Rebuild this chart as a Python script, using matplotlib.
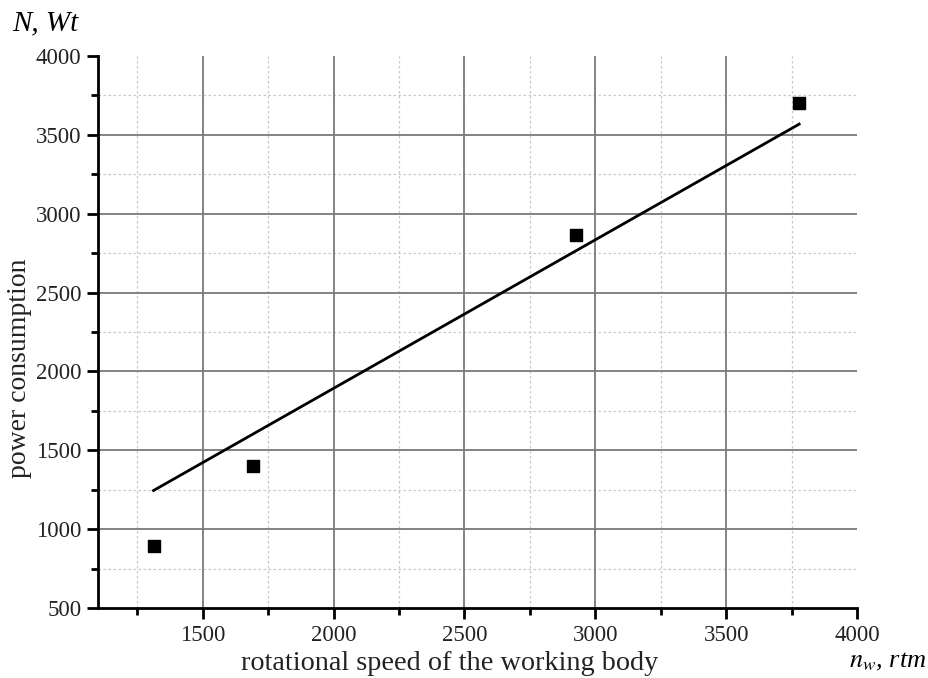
import matplotlib
matplotlib.use("Agg")
import matplotlib.pyplot as plt
from matplotlib.ticker import MultipleLocator

# Data
speed = [1313, 1692, 2928, 3777]
power = [895, 1400, 2867, 3700]
fit_x = [1312, 3779]
fit_y = [1245, 3568]

x_major = [1500, 2000, 2500, 3000, 3500]
x_minor = [1250, 1750, 2250, 2750, 3250, 3750]
y_major = [1000, 1500, 2000, 2500, 3000, 3500]
y_minor = [750, 1250, 1750, 2250, 2750, 3250, 3750]

plt.rcParams['font.family'] = ['Liberation Serif', 'DejaVu Serif']

fig = plt.figure(figsize=(9.29, 6.78), dpi=100)
ax = fig.add_axes([0.1055, 0.1032, 0.817, 0.8142])

ax.set_xlim(1100, 4000)
ax.set_ylim(500, 4000)
ax.xaxis.set_major_locator(MultipleLocator(500))
ax.xaxis.set_minor_locator(MultipleLocator(250))
ax.yaxis.set_major_locator(MultipleLocator(500))
ax.yaxis.set_minor_locator(MultipleLocator(250))

# grid lines inside the plot only (none on the top / right borders)
ax.vlines(x_major, 500, 4000, color='#7a7a7a', linewidth=1.3, zorder=1)
ax.hlines(y_major, 1100, 4000, color='#7a7a7a', linewidth=1.3, zorder=1)
ax.vlines(x_minor, 500, 4000, color='#c8c8c8', linewidth=0.9, linestyle=(0, (2, 2)), zorder=0.5)
ax.hlines(y_minor, 1100, 4000, color='#c8c8c8', linewidth=0.9, linestyle=(0, (2, 2)), zorder=0.5)

ax.plot(fit_x, fit_y, color='black', linewidth=2.0, zorder=3)
ax.scatter(speed, power, marker='s', s=80, color='black', zorder=4)

for side in ['top', 'right']:
    ax.spines[side].set_visible(False)
for side in ['left', 'bottom']:
    ax.spines[side].set_linewidth(2.0)

ax.tick_params(which='major', direction='out', length=8, width=2, labelsize=16.5, pad=4,
               labelcolor='#222222')
ax.tick_params(which='minor', direction='out', length=5, width=2)

fig.text(450 / 929, 1 - 664 / 678, 'rotational speed of the working body', fontsize=20.3,
         ha='center', va='center', color='#222222')
fig.text(20 / 929, 1 - 368 / 678, 'power consumption', fontsize=20, rotation=90,
         ha='center', va='center', color='#222222')

fig.text(0.013, 0.965, 'N, Wt', fontsize=21, style='italic', ha='left', va='center')
fig.text(0.997, 0.024, r'$n_w$, rtm', fontsize=19, style='italic', ha='right', va='center',
         math_fontfamily='stix')

fig.savefig('out.png', dpi=100)
